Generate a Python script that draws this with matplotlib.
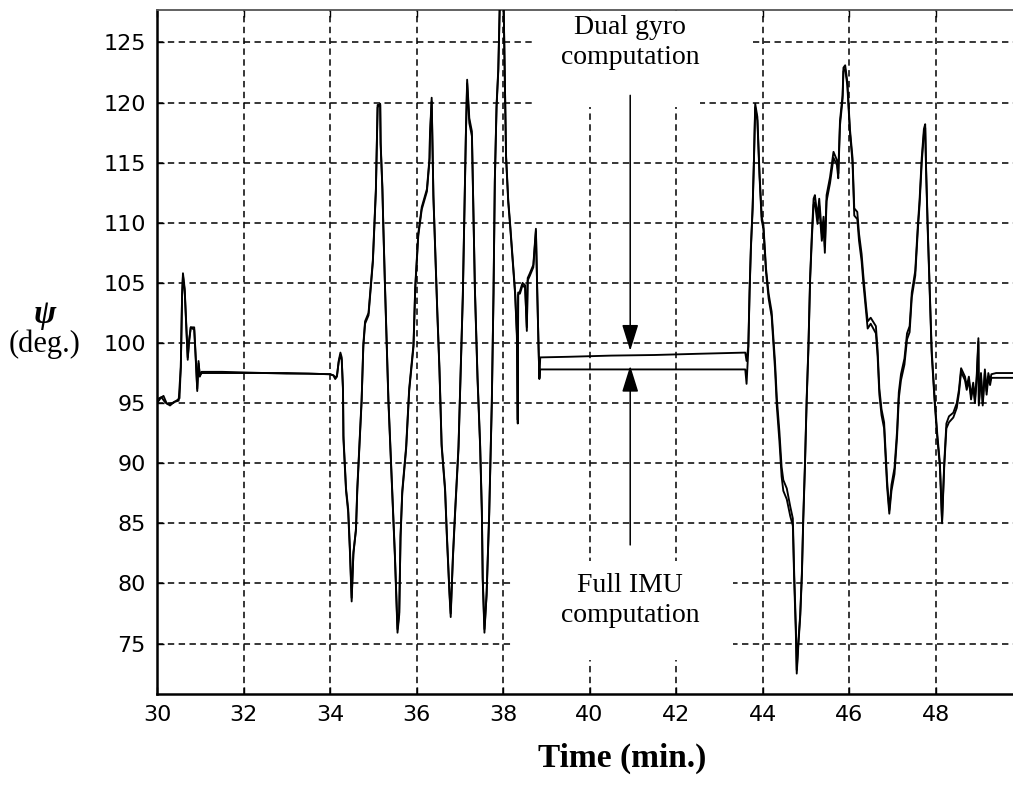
import matplotlib
matplotlib.use("Agg")
import matplotlib.pyplot as plt
from matplotlib.patches import Rectangle

# Heading angle psi (deg) versus time (min) from two computations
t_dual = [30.00, 30.10, 30.18, 30.25, 30.35, 30.45, 30.52, 30.55, 30.58, 30.60,
          30.64, 30.68, 30.71, 30.74, 30.78, 30.86, 30.90, 30.93, 30.96, 30.99,
          31.03, 31.50, 32.00, 32.50, 33.00, 33.50, 34.00, 34.08, 34.12, 34.16,
          34.20, 34.24, 34.27, 34.30, 34.31, 34.37, 34.42, 34.46, 34.50, 34.54,
          34.60, 34.63, 34.68, 34.73, 34.77, 34.81, 34.89, 34.94, 34.99, 35.03,
          35.06, 35.08, 35.10, 35.16, 35.17, 35.21, 35.23, 35.27, 35.31, 35.35,
          35.41, 35.46, 35.50, 35.56, 35.60, 35.63, 35.67, 35.76, 35.83, 35.93,
          35.97, 36.04, 36.12, 36.24, 36.30, 36.31, 36.35, 36.39, 36.48, 36.53,
          36.58, 36.66, 36.70, 36.76, 36.79, 36.84, 36.89, 36.97, 37.02, 37.07,
          37.10, 37.14, 37.17, 37.22, 37.28, 37.31, 37.35, 37.41, 37.47, 37.51,
          37.53, 37.57, 37.62, 37.68, 37.74, 37.78, 37.81, 37.85, 37.89, 37.93,
          38.01, 38.05, 38.07, 38.12, 38.16, 38.22, 38.28, 38.32, 38.34, 38.35,
          38.39, 38.45, 38.51, 38.55, 38.57, 38.62, 38.70, 38.76, 38.79, 38.82,
          38.84, 38.86, 39.50, 40.50, 41.50, 42.50, 43.60, 43.63, 43.67, 43.70,
          43.73, 43.77, 43.80, 43.83, 43.88, 43.93, 43.98, 44.02, 44.08, 44.14,
          44.21, 44.25, 44.29, 44.33, 44.39, 44.44, 44.48, 44.56, 44.64, 44.70,
          44.73, 44.77, 44.79, 44.83, 44.87, 44.91, 44.94, 44.98, 45.02, 45.06,
          45.10, 45.14, 45.18, 45.21, 45.27, 45.31, 45.37, 45.41, 45.44, 45.48,
          45.56, 45.64, 45.72, 45.75, 45.79, 45.85, 45.87, 45.91, 45.96, 46.02,
          46.08, 46.12, 46.19, 46.23, 46.29, 46.33, 46.39, 46.43, 46.50, 46.62,
          46.66, 46.70, 46.75, 46.81, 46.88, 46.93, 46.98, 47.05, 47.11, 47.15,
          47.20, 47.28, 47.34, 47.40, 47.45, 47.53, 47.59, 47.63, 47.68, 47.73,
          47.76, 47.78, 47.82, 47.86, 47.91, 47.98, 48.04, 48.10, 48.15, 48.20,
          48.25, 48.31, 48.41, 48.49, 48.54, 48.59, 48.64, 48.68, 48.72, 48.77,
          48.82, 48.87, 48.91, 48.95, 48.99, 49.00, 49.05, 49.09, 49.14, 49.18,
          49.22, 49.26, 49.29, 49.40, 49.80]
psi_dual = [95.3, 95.5, 95.1, 94.9, 95.0, 95.2, 95.4, 98.0, 104.0, 105.8,
            104.5, 101.3, 98.8, 100.0, 101.3, 101.3, 98.5, 96.0, 98.5, 97.2,
            97.6, 97.6, 97.55, 97.5, 97.5, 97.45, 97.4, 97.3, 97.0, 97.2,
            98.5, 99.2, 98.8, 96.0, 92.0, 87.7, 85.9, 82.6, 78.5, 82.6,
            84.4, 87.7, 91.4, 95.1, 99.9, 101.8, 102.5, 104.7, 106.9, 110.2,
            112.8, 116.5, 119.8, 119.8, 116.5, 112.8, 109.9, 104.7, 99.9, 95.1,
            90.0, 85.9, 82.2, 75.9, 77.4, 84.0, 87.7, 91.4, 96.2, 99.9,
            104.7, 109.1, 111.3, 112.8, 115.4, 117.3, 120.4, 112.1, 102.5, 97.7,
            91.4, 87.7, 84.0, 79.2, 77.2, 82.2, 85.9, 91.4, 97.7, 104.0,
            109.9, 117.3, 121.9, 118.7, 117.6, 111.7, 104.3, 97.0, 91.4, 85.9,
            80.3, 75.9, 79.2, 85.9, 95.1, 104.3, 113.6, 119.8, 122.8, 129.0,
            129.0, 120.2, 115.4, 111.7, 109.9, 106.9, 104.0, 100.6, 93.3, 104.0,
            104.3, 105.0, 104.8, 101.0, 105.4, 105.8, 106.5, 109.5, 104.3, 99.9,
            97.0, 98.8, 98.85, 98.95, 99.0, 99.1, 99.2, 98.5, 99.7, 104.4,
            108.0, 111.3, 115.2, 119.9, 118.8, 114.1, 110.5, 109.8, 106.2, 104.1,
            102.6, 100.5, 98.3, 95.4, 92.6, 89.7, 88.6, 87.9, 86.4, 85.4,
            81.0, 76.4, 72.8, 75.3, 77.4, 81.0, 85.4, 90.0, 95.4, 99.7,
            105.5, 109.1, 112.0, 112.3, 110.5, 112.0, 109.1, 110.5, 108.0, 112.3,
            113.8, 115.9, 115.2, 114.1, 118.5, 120.6, 122.9, 123.1, 121.7, 117.8,
            115.4, 111.2, 110.9, 109.1, 107.4, 105.6, 103.2, 101.8, 102.1, 101.4,
            99.4, 96.2, 94.5, 93.4, 88.5, 86.1, 88.2, 89.6, 92.7, 95.9,
            97.4, 98.7, 100.8, 101.4, 104.2, 106.0, 109.8, 111.9, 115.4, 117.8,
            118.2, 114.7, 109.5, 104.9, 99.4, 95.3, 92.4, 90.0, 85.2, 90.0,
            93.3, 93.9, 94.2, 95.0, 96.1, 97.9, 97.5, 97.2, 96.4, 97.2,
            95.6, 96.7, 95.3, 97.2, 100.4, 95.0, 97.5, 95.0, 97.8, 96.0,
            97.5, 96.8, 97.4, 97.5, 97.5]

t_imu = [30.00, 30.08, 30.15, 30.22, 30.30, 30.40, 30.50, 30.55, 30.58, 30.60,
         30.64, 30.68, 30.71, 30.74, 30.78, 30.86, 30.90, 30.93, 30.96, 30.99,
         31.03, 31.50, 32.00, 32.50, 33.00, 33.50, 34.00, 34.08, 34.12, 34.16,
         34.20, 34.24, 34.27, 34.30, 34.31, 34.37, 34.42, 34.46, 34.50, 34.54,
         34.60, 34.63, 34.68, 34.73, 34.77, 34.81, 34.89, 34.94, 34.99, 35.03,
         35.06, 35.08, 35.10, 35.16, 35.17, 35.21, 35.23, 35.27, 35.31, 35.35,
         35.41, 35.46, 35.50, 35.56, 35.60, 35.63, 35.67, 35.76, 35.83, 35.93,
         35.97, 36.04, 36.12, 36.24, 36.30, 36.31, 36.35, 36.39, 36.48, 36.53,
         36.58, 36.66, 36.70, 36.76, 36.79, 36.84, 36.89, 36.97, 37.02, 37.07,
         37.10, 37.14, 37.17, 37.22, 37.28, 37.31, 37.35, 37.41, 37.47, 37.51,
         37.53, 37.57, 37.62, 37.68, 37.74, 37.78, 37.81, 37.85, 37.89, 37.93,
         38.01, 38.05, 38.07, 38.12, 38.16, 38.22, 38.28, 38.32, 38.34, 38.35,
         38.39, 38.45, 38.51, 38.55, 38.57, 38.62, 38.70, 38.76, 38.79, 38.82,
         38.84, 38.86, 39.50, 40.50, 41.50, 42.50, 43.60, 43.63, 43.67, 43.70,
         43.73, 43.77, 43.80, 43.83, 43.88, 43.93, 43.98, 44.02, 44.08, 44.14,
         44.21, 44.25, 44.29, 44.33, 44.39, 44.44, 44.48, 44.56, 44.64, 44.70,
         44.73, 44.77, 44.79, 44.83, 44.87, 44.91, 44.94, 44.98, 45.02, 45.06,
         45.10, 45.14, 45.18, 45.21, 45.27, 45.31, 45.37, 45.41, 45.44, 45.48,
         45.56, 45.64, 45.72, 45.75, 45.79, 45.85, 45.87, 45.91, 45.96, 46.02,
         46.08, 46.12, 46.19, 46.23, 46.29, 46.33, 46.39, 46.43, 46.50, 46.62,
         46.66, 46.70, 46.75, 46.81, 46.88, 46.93, 46.98, 47.05, 47.11, 47.15,
         47.20, 47.28, 47.34, 47.40, 47.45, 47.53, 47.59, 47.63, 47.68, 47.73,
         47.76, 47.78, 47.82, 47.86, 47.91, 47.98, 48.04, 48.10, 48.15, 48.20,
         48.25, 48.31, 48.41, 48.49, 48.54, 48.59, 48.64, 48.68, 48.72, 48.77,
         48.82, 48.87, 48.91, 48.95, 48.99, 49.00, 49.05, 49.09, 49.14, 49.18,
         49.22, 49.26, 49.29, 49.40, 49.80]
psi_imu = [95.0, 95.4, 95.6, 95.0, 94.8, 95.1, 95.2, 98.0, 104.0, 105.6,
           104.3, 101.0, 98.6, 100.2, 101.3, 101.1, 98.3, 96.2, 98.3, 97.3,
           97.5, 97.5, 97.5, 97.5, 97.45, 97.45, 97.4, 97.3, 97.1, 97.3,
           98.4, 99.0, 98.6, 96.2, 92.3, 87.9, 86.2, 82.9, 78.8, 82.4,
           84.6, 87.9, 91.6, 95.3, 99.7, 101.6, 102.3, 104.5, 106.7, 110.0,
           112.6, 116.3, 119.6, 119.9, 116.7, 113.0, 110.1, 104.9, 100.1, 95.3,
           90.2, 86.1, 82.4, 76.2, 77.6, 83.8, 87.5, 91.2, 96.0, 99.7,
           104.5, 108.9, 111.1, 112.6, 115.2, 117.1, 120.1, 112.3, 102.7, 97.9,
           91.6, 87.9, 84.2, 79.4, 77.5, 82.0, 85.7, 91.2, 97.5, 103.8,
           109.7, 117.1, 121.6, 118.3, 117.2, 111.9, 104.5, 97.2, 91.6, 86.1,
           80.5, 76.2, 79.0, 85.7, 94.9, 104.1, 113.4, 119.6, 122.6, 129.0,
           129.0, 120.4, 115.6, 111.9, 110.1, 107.1, 104.2, 100.8, 93.6, 104.2,
           104.1, 104.8, 104.6, 101.3, 105.2, 105.6, 106.3, 109.3, 104.5, 99.7,
           97.1, 97.8, 97.8, 97.8, 97.8, 97.8, 97.8, 96.6, 99.4, 104.2,
           107.8, 111.1, 115.0, 119.6, 118.5, 113.8, 110.2, 109.5, 105.9, 103.7,
           102.2, 100.0, 97.7, 94.7, 91.8, 88.9, 87.7, 87.0, 85.6, 84.8,
           80.4, 75.8, 72.5, 75.0, 77.2, 80.7, 85.1, 89.7, 95.2, 99.5,
           105.3, 108.7, 111.5, 111.7, 109.9, 111.4, 108.5, 109.8, 107.5, 111.8,
           113.3, 115.4, 114.8, 113.7, 118.1, 120.3, 122.6, 122.8, 121.4, 117.5,
           115.0, 110.6, 110.3, 108.5, 106.8, 105.0, 102.7, 101.2, 101.6, 100.8,
           98.9, 95.7, 94.0, 92.9, 88.0, 85.8, 87.7, 89.1, 92.2, 95.4,
           96.9, 98.2, 100.3, 100.9, 103.8, 105.6, 109.4, 111.5, 115.0, 117.4,
           117.9, 114.4, 109.2, 104.6, 99.1, 95.0, 92.1, 89.7, 85.0, 89.7,
           92.9, 93.4, 93.8, 94.6, 95.8, 97.6, 97.2, 96.9, 96.1, 96.9,
           95.3, 96.4, 95.0, 96.9, 100.1, 94.8, 97.2, 94.8, 97.5, 95.7,
           97.2, 96.5, 97.1, 97.1, 97.1]

x_ticks = [30, 32, 34, 36, 38, 40, 42, 44, 46, 48]
y_ticks = [75, 80, 85, 90, 95, 100, 105, 110, 115, 120, 125]

plt.rcParams['lines.scale_dashes'] = False

fig = plt.figure(figsize=(10.13, 7.85), dpi=100)
ax = fig.add_axes([0.155, 0.1159, 0.845, 0.8714])
ax.set_xlim(30, 49.79)
ax.set_ylim(70.8, 127.7)

ax.grid(True, color='black', linestyle=(0, (4.6, 3.2)), linewidth=1.1)
ax.set_axisbelow(True)

ax.plot(t_dual, psi_dual, color='black', linewidth=1.35, zorder=3)
ax.plot(t_imu, psi_imu, color='black', linewidth=1.35, zorder=3)

# white backgrounds behind the annotation texts hide the grid there
for x0, x1, y0, y1 in [(38.69, 43.78, 121.9, 127.6),
                       (38.69, 42.55, 119.6, 121.9),
                       (38.23, 43.32, 73.6, 81.9)]:
    ax.add_patch(Rectangle((x0, y0), x1 - x0, y1 - y0, facecolor='white',
                           edgecolor='none', zorder=1))

ax.set_xticks(x_ticks)
ax.set_yticks(y_ticks)
ax.tick_params(direction='in', length=5, width=1, top=True, right=False,
               labelsize=16, pad=8, colors='black')
for lab in ax.get_xticklabels() + ax.get_yticklabels():
    lab.set_fontfamily('DejaVu Sans')

ax.spines['right'].set_visible(False)
ax.spines['left'].set_linewidth(1.8)
ax.spines['bottom'].set_linewidth(1.8)
ax.spines['top'].set_linewidth(1.3)
ax.spines['top'].set_color('#555555')

serif = 'Liberation Serif'
head = '-|>,head_length=0.9,head_width=0.28'
ax.annotate('', xy=(40.94, 99.35), xytext=(40.94, 120.6),
            arrowprops=dict(arrowstyle=head, color='black', lw=1.1,
                            mutation_scale=18, shrinkA=0, shrinkB=0), zorder=5)
ax.annotate('', xy=(40.94, 98.1), xytext=(40.94, 83.2),
            arrowprops=dict(arrowstyle=head, color='black', lw=1.1,
                            mutation_scale=18, shrinkA=0, shrinkB=0), zorder=5)
ax.text(40.94, 125.0, 'Dual gyro\ncomputation', family=serif, fontsize=20,
        ha='center', va='center', linespacing=1.25, zorder=6)
ax.text(40.94, 78.6, 'Full IMU\ncomputation', family=serif, fontsize=20,
        ha='center', va='center', linespacing=1.25, zorder=6)

fig.text(45 / 1013, 1 - 314 / 785, 'ψ', family=serif, fontsize=24,
         fontweight='bold', fontstyle='italic', ha='center', va='center')
fig.text(45 / 1013, 1 - 344 / 785, '(deg.)', family=serif, fontsize=22,
         ha='center', va='center')
fig.text(622 / 1013, 1 - 758 / 785, 'Time (min.)', family=serif, fontsize=24,
         fontweight='bold', ha='center', va='center')

fig.savefig('out.png', dpi=100)
